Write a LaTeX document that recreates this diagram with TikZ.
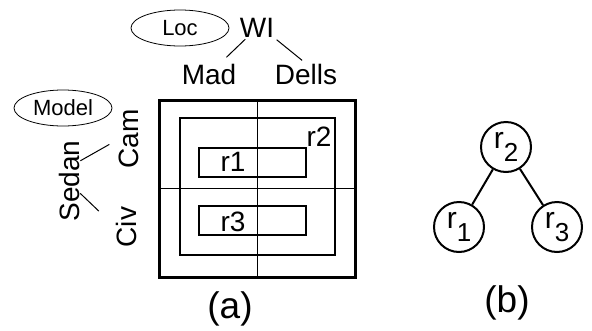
\documentclass[tikz,border=0pt]{standalone}
\usepackage{fontspec}
\setmainfont{Liberation Sans}
\usetikzlibrary{shapes.geometric}

\newcommand{\lowidx}[1]{\raisebox{-13pt}{\fontsize{26}{27}\selectfont #1}}

\tikzset{
lbl/.style={inner sep=0pt,font=\fontsize{28}{32}\selectfont},
tag/.style={draw,ellipse,line width=0.8pt,inner sep=0pt,minimum width=98pt,minimum height=36pt,font=\fontsize{22}{26}\selectfont},
capt/.style={inner sep=0pt,font=\fontsize{37}{42}\selectfont},
tnode/.style={draw,circle,line width=2pt,inner sep=0pt,minimum size=50pt,font=\fontsize{30}{32}\selectfont},
}

\begin{document}
\begin{tikzpicture}[x=1pt,y=-1pt]
\useasboundingbox (0,0) rectangle (592,330);

\draw[line width=3pt] (159,100) rectangle (355,277);
\draw[line width=1pt] (257,100) -- (257,277);
\draw[line width=1pt] (159,188) -- (355,188);
\draw[line width=2pt] (180,118) rectangle (335,255);
\draw[line width=2pt] (199,148) rectangle (306,177);
\draw[line width=2pt] (199,206) rectangle (306,235);

\node[lbl] (v1) at (233,162) {r1};
\node[lbl] (v2) at (319,137) {r2};
\node[lbl] (v3) at (233,222) {r3};

\node[tag] (v4) at (180,28) {Loc};
\node[lbl] (v5) at (257,28) {WI};
\node[lbl] (v6) at (209,74) {Mad};
\node[lbl] (v7) at (306,74) {Dells};
\draw[line width=1pt,shorten <=2pt,shorten >=9pt] (v5) -- (v6);
\draw[line width=1pt,shorten <=3pt,shorten >=5pt] (v5.south east) -- (v7.north);

\node[tag] (v8) at (63,108) {Model};
\node[lbl,rotate=90] (v9) at (69,181) {Sedan};
\node[lbl,rotate=90] (v10) at (129,139) {Cam};
\node[lbl,rotate=90] (v11) at (126,227) {Civ};
\draw[line width=1pt,shorten <=1pt,shorten >=11pt] (v9.-28) -- (v10.north);
\draw[line width=1pt,shorten <=1pt,shorten >=23pt] (v9.-138) -- (v11.north);

\node[capt] (v12) at (230,309) {(a)};

\node[tnode] (v13) at (506,147) {r\lowidx{2}};
\node[tnode] (v14) at (459,227) {r\lowidx{1}};
\node[tnode] (v15) at (557,227) {r\lowidx{3}};
\draw[line width=2pt] (v13) -- (v14);
\draw[line width=2pt] (v13) -- (v15);
\node[capt] (v16) at (507,303) {(b)};
\end{tikzpicture}
\end{document}
